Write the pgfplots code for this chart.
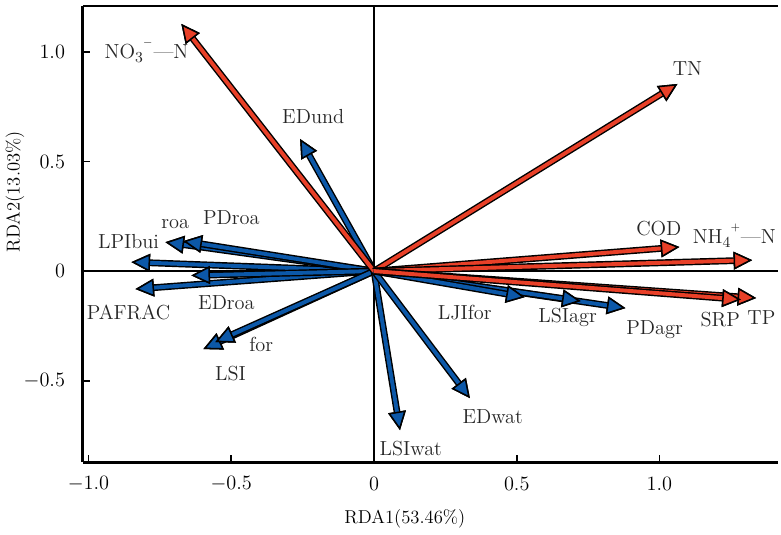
\documentclass[border=0pt]{standalone}
\usepackage{pgfplots}
\pgfplotsset{compat=1.18}
\usetikzlibrary{arrows.meta}
\definecolor{vred}{RGB}{232,64,40}
\definecolor{vblue}{RGB}{12,88,168}
\pgfplotsset{
  redarr/.style={draw=vred, line width=2.3pt,
    preaction={draw=black, line width=4pt},
    -{Triangle[length=11pt,width=10.5pt,fill=vred,color=black,line width=0.9pt]}},
  bluearr/.style={draw=vblue, line width=2.3pt,
    preaction={draw=black, line width=4pt},
    -{Triangle[length=11pt,width=10.5pt,fill=vblue,color=black,line width=0.9pt]}},
}
\begin{document}
\begin{tikzpicture}
\begin{axis}[
  name=ax,
  width=410pt, height=269pt, scale only axis,
  xmin=-1.02, xmax=1.416, ymin=-0.872, ymax=1.21,
  axis x line*=box, axis y line*=left,
  axis line style={line width=1.6pt, -},
  xtick={-1,-0.5,0,0.5,1}, xticklabels={$-1.0$,$-0.5$,0,0.5,1.0},
  ytick={-0.5,0,0.5,1}, yticklabels={$-0.5$,0,0.5,1.0},
  xtick pos=bottom, ytick pos=left,
  tick align=inside, major tick length=4.5pt,
  tick style={line width=1.1pt, black},
  ticklabel style={font=\large},
  xticklabel style={yshift=-5pt},
  yticklabel style={xshift=-7pt},
  xlabel={RDA1(53.46\%)}, ylabel={RDA2(13.03\%)},
  label style={font=\fontsize{11}{13}\selectfont},
  xlabel style={at={(axis description cs:0.463,-0.125)}, anchor=center},
  ylabel style={at={(axis description cs:-0.0976,0.593)}, anchor=center},
  clip=false,
]
\draw[line width=1.6pt] (axis cs:0,-0.872) -- (axis cs:0,1.21);
\draw[line width=1.6pt] (axis cs:-1.02,0) -- (axis cs:1.416,0);

% environmental (landscape) vectors
\addplot[bluearr] coordinates {(0,0) (-0.259,0.603)};  % EDund
\addplot[bluearr] coordinates {(0,0) (-0.850,0.041)};  % LPIbui
\addplot[bluearr] coordinates {(0,0) (-0.731,0.132)};  % roa
\addplot[bluearr] coordinates {(0,0) (-0.668,0.137)};  % PDroa
\addplot[bluearr] coordinates {(0,0) (-0.836,-0.082)}; % PAFRAC
\addplot[bluearr] coordinates {(0,0) (-0.640,-0.020)}; % EDroa
\addplot[bluearr] coordinates {(0,0) (-0.598,-0.356)}; % LSI
\addplot[bluearr] coordinates {(0,0) (-0.556,-0.324)}; % for
\addplot[bluearr] coordinates {(0,0) (0.091,-0.726)};  % LSIwat
\addplot[bluearr] coordinates {(0,0) (0.336,-0.580)};  % EDwat
\addplot[bluearr] coordinates {(0,0) (0.881,-0.169)};  % PDagr
\addplot[bluearr] coordinates {(0,0) (0.724,-0.137)};  % LSIagr
\addplot[bluearr] coordinates {(0,0) (0.528,-0.119)};  % LJIfor

% water quality vectors
\addplot[redarr] coordinates {(0,0) (-0.675,1.128)}; % NO3-N
\addplot[redarr] coordinates {(0,0) (1.063,0.854)};  % TN
\addplot[redarr] coordinates {(0,0) (1.070,0.110)};  % COD
\addplot[redarr] coordinates {(0,0) (1.325,0.050)};  % NH4-N
\addplot[redarr] coordinates {(0,0) (1.339,-0.123)}; % TP
\addplot[redarr] coordinates {(0,0) (1.285,-0.130)}; % SRP

\begin{scope}[every node/.style={font=\large, text=black!85}]
\node at (axis cs:-0.797,1.005) {NO\raisebox{-0.5ex}{\small 3}\raisebox{0.7ex}{\small $^-$}---N};
\node at (axis cs:1.098,0.922) {TN};
\node at (axis cs:-0.213,0.703) {EDund};
\node at (axis cs:0.998,0.196) {COD};
\node[inner sep=1pt] at (axis cs:1.262,0.160) {NH\raisebox{-0.5ex}{\small 4}\raisebox{0.7ex}{\small $^+$}---N};
\node at (axis cs:-0.696,0.215) {roa};
\node at (axis cs:-0.500,0.242) {PDroa};
\node at (axis cs:-0.860,0.137) {LPIbui};
\node at (axis cs:-0.517,-0.146) {EDroa};
\node at (axis cs:-0.860,-0.187) {PAFRAC};
\node at (axis cs:-0.395,-0.333) {for};
\node at (axis cs:-0.503,-0.466) {LSI};
\node at (axis cs:0.318,-0.187) {LJIfor};
\node at (axis cs:0.678,-0.210) {LSIagr};
\node at (axis cs:0.983,-0.265) {PDagr};
\node at (axis cs:1.213,-0.219) {SRP};
\node at (axis cs:1.357,-0.210) {TP};
\node at (axis cs:0.416,-0.662) {EDwat};
\node at (axis cs:0.129,-0.808) {LSIwat};
\end{scope}
\end{axis}
\path ([yshift=3.5pt]ax.north east);
\end{tikzpicture}
\end{document}
